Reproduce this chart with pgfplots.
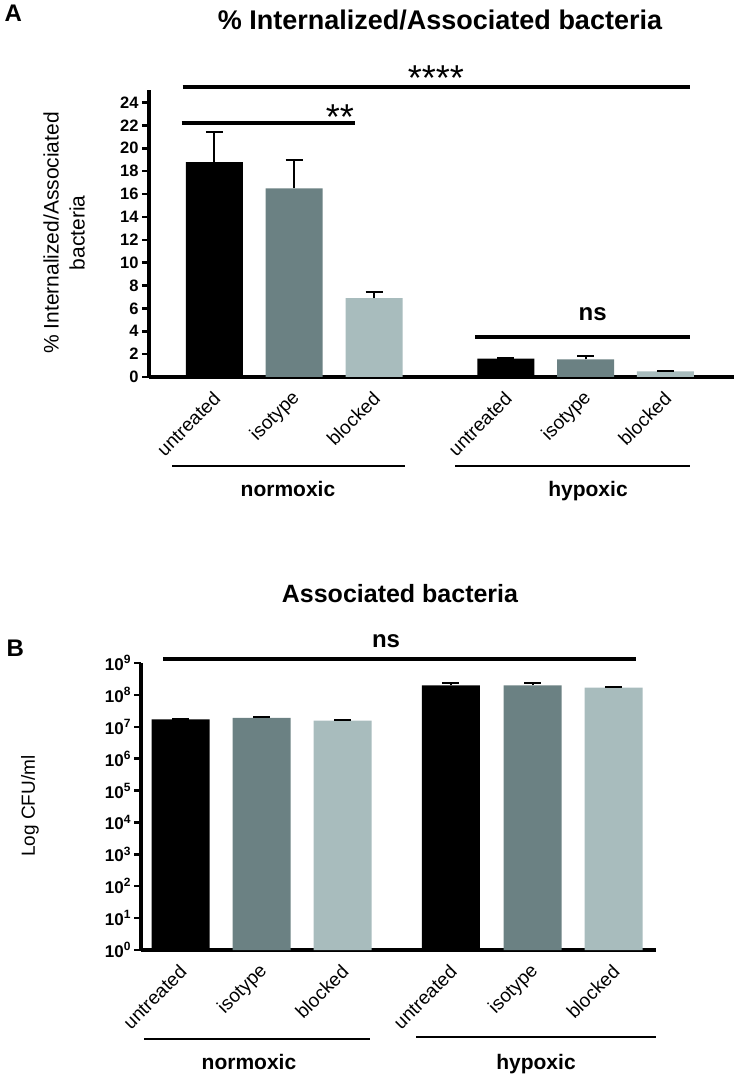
\documentclass[border=0pt]{standalone}
\usepackage{fontspec}
\setmainfont{Liberation Sans}
\usepackage{pgfplots}
\pgfplotsset{compat=1.18}
\definecolor{cmid}{HTML}{6B8183}
\definecolor{clight}{HTML}{A8BCBD}
\newcommand{\tp}[1]{\mbox{\fontsize{17}{17}\selectfont\bfseries 10\raisebox{0.40em}{\fontsize{12}{12}\selectfont\bfseries #1}}}
\pgfplotsset{
  myerr/.style={error bars/.cd, y dir=plus, y explicit,
    error bar style={line width=2pt, black},
    error mark options={rotate=90, line width=2pt, black, mark size=8.5pt}},
}

\begin{document}
\begin{tikzpicture}
\useasboundingbox (0pt,0pt) rectangle (734pt,1076pt);

% ---------------- Panel A ----------------
\begin{axis}[
  at={(149pt,699pt)}, anchor=south west, scale only axis,
  width=585pt, height=287pt,
  xmin=149, xmax=734, ymin=0, ymax=25.1,
  axis x line*=bottom, axis y line*=left,
  axis line style={line width=4pt, -},
  ytick={0,2,...,24},
  /pgf/number format/assume math mode=true,
  yticklabel style={font=\bfseries\fontsize{16.5}{16.5}\selectfont},
  y tick style={line width=2.5pt, black}, major tick length=7pt, tick align=outside,
  xtick={214.3,294,374,505.8,585.7,665.3},
  xticklabels={untreated,isotype,blocked,untreated,isotype,blocked},
  x tick style={draw=none},
  xticklabel style={font=\fontsize{19}{19}\selectfont, xshift=5pt, yshift=-9pt, rotate=45, anchor=east},
  clip=false,
]
\addplot[ybar, bar shift=0pt, bar width=57pt, fill=black, draw=none, myerr]
  coordinates {(214.3,18.8) +- (0,2.6) (505.8,1.6) +- (0,0.05)};
\addplot[ybar, bar shift=0pt, bar width=57pt, fill=cmid, draw=none, myerr]
  coordinates {(294,16.5) +- (0,2.5) (585.7,1.55) +- (0,0.25)};
\addplot[ybar, bar shift=0pt, bar width=57pt, fill=clight, draw=none, myerr]
  coordinates {(374,6.9) +- (0,0.5) (665.3,0.5) +- (0,0.02)};
\end{axis}

\node[anchor=base west, font=\bfseries\fontsize{24}{24}\selectfont] at (1pt,1054pt) {A};
\node[anchor=base, font=\bfseries\fontsize{27}{27}\selectfont] at (440pt,1046.5pt) {\% Internalized/Associated bacteria};
\draw[line width=4pt] (182.7pt,989.3pt) -- (690pt,989.3pt);
\node[anchor=base, font=\fontsize{36}{36}\selectfont] at (436pt,985pt) {****};
\draw[line width=4pt] (181.7pt,952.7pt) -- (355pt,952.7pt);
\node[anchor=base, font=\fontsize{36}{36}\selectfont] at (340pt,946pt) {**};
\draw[line width=4pt] (475pt,738.7pt) -- (690pt,738.7pt);
\node[anchor=base, font=\bfseries\fontsize{24}{24}\selectfont] at (592.7pt,755pt) {ns};
\node[rotate=90, align=center, font=\fontsize{21}{26}\selectfont] at (64pt,843pt) {\% Internalized/Associated\\bacteria};
\draw[line width=1.5pt] (172pt,610pt) -- (405pt,610pt);
\draw[line width=1.5pt] (455pt,610pt) -- (690pt,610pt);
\node[anchor=base, font=\bfseries\fontsize{21}{21}\selectfont] at (288pt,579pt) {normoxic};
\node[anchor=base, font=\bfseries\fontsize{21}{21}\selectfont] at (588pt,579pt) {hypoxic};

% ---------------- Panel B ----------------
\begin{axis}[
  at={(141pt,126pt)}, anchor=south west, scale only axis,
  width=515pt, height=287pt,
  xmin=141, xmax=656, ymode=log, ymin=1, ymax=1e9, log origin=infty,
  axis x line*=bottom, axis y line*=left,
  axis line style={line width=4pt, -},
  /pgf/number format/assume math mode=true,
  ytick={1,10,100,1000,10000,100000,1000000,10000000,100000000,1000000000},
  yticklabels={\tp{0},\tp{1},\tp{2},\tp{3},\tp{4},\tp{5},\tp{6},\tp{7},\tp{8},\tp{9}},
  yminorticks=false,
  y tick style={line width=2.5pt, black}, major tick length=7pt, tick align=outside,
  xtick={180.5,261.5,342.5,450.8,532.5,613.5},
  xticklabels={untreated,isotype,blocked,untreated,isotype,blocked},
  x tick style={draw=none},
  xticklabel style={font=\fontsize{19}{19}\selectfont, xshift=5pt, yshift=-9pt, rotate=45, anchor=east},
  clip=false,
]
\addplot[ybar, bar shift=0pt, bar width=58pt, fill=black, draw=none, myerr]
  coordinates {(180.5,1.7e7) +- (0,0.05e7) (450.8,2.0e8) +- (0,0.35e8)};
\addplot[ybar, bar shift=0pt, bar width=58pt, fill=cmid, draw=none, myerr]
  coordinates {(261.5,1.9e7) +- (0,0.15e7) (532.5,2.0e8) +- (0,0.35e8)};
\addplot[ybar, bar shift=0pt, bar width=58pt, fill=clight, draw=none, myerr]
  coordinates {(342.5,1.55e7) +- (0,0.05e7) (613.5,1.7e8) +- (0,0.05e8)};
\end{axis}

\node[anchor=base west, font=\bfseries\fontsize{24}{24}\selectfont] at (3pt,419pt) {B};
\node[anchor=base, font=\bfseries\fontsize{25}{25}\selectfont] at (400pt,473pt) {Associated bacteria};
\draw[line width=4pt] (163pt,416.5pt) -- (636pt,416.5pt);
\node[anchor=base, font=\bfseries\fontsize{24}{24}\selectfont] at (386pt,428pt) {ns};
\node[rotate=90, font=\fontsize{19}{19}\selectfont] at (30pt,270pt) {Log CFU/ml};
\draw[line width=1.5pt] (144pt,37pt) -- (370pt,37pt);
\draw[line width=1.5pt] (416pt,39pt) -- (656pt,39pt);
\node[anchor=base, font=\bfseries\fontsize{21}{21}\selectfont] at (249pt,6pt) {normoxic};
\node[anchor=base, font=\bfseries\fontsize{21}{21}\selectfont] at (536pt,6pt) {hypoxic};
\end{tikzpicture}
\end{document}
